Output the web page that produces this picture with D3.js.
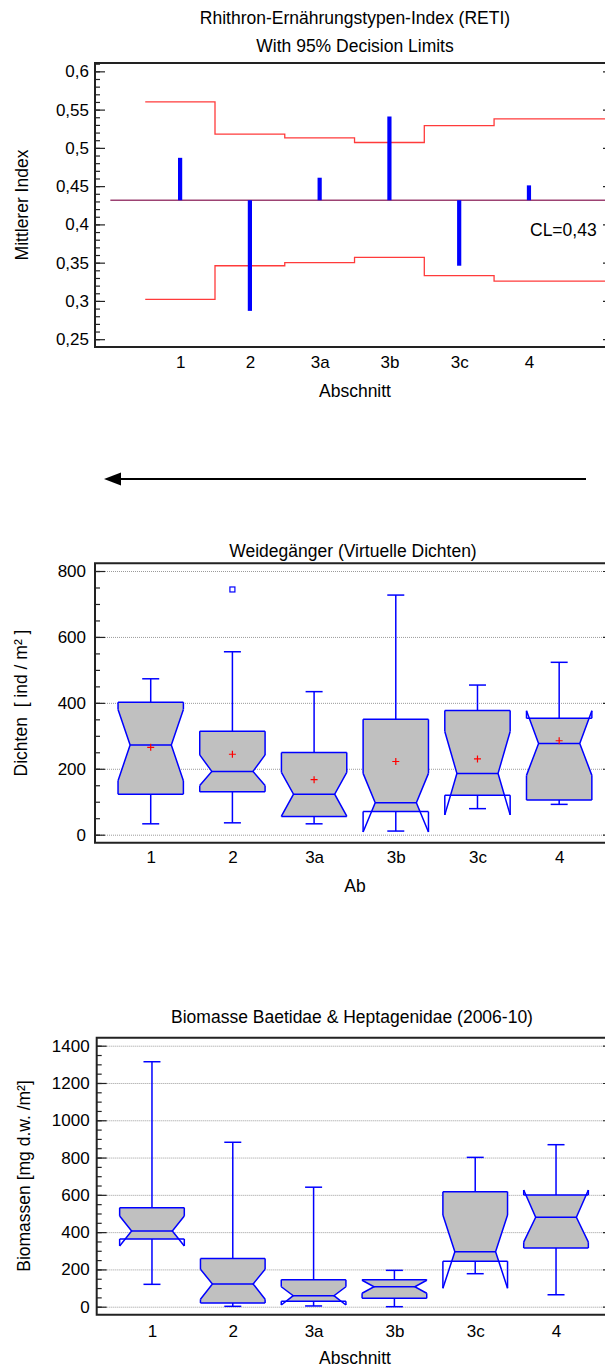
<!DOCTYPE html>
<html>
<head>
<meta charset="utf-8">
<script src="https://cdn.jsdelivr.net/npm/d3@7"></script>
<style>
  html, body { margin: 0; padding: 0; background: #fff; }
  svg { display: block; font-family: "Liberation Sans", Arial, sans-serif; }
  text { white-space: pre; }
</style>
</head>
<body>
<svg id="chart" width="605" height="1367"></svg>
<script>
// ---------- Data ----------
const sections = ["1", "2", "3a", "3b", "3c", "4"];

// RETI: section means with 95% decision limits around the centre line
const retiMeans = [0.487, 0.287, 0.461, 0.541, 0.346, 0.451];
const retiUpper = [0.560, 0.518, 0.513, 0.507, 0.529, 0.538];
const retiLower = [0.302, 0.346, 0.350, 0.357, 0.333, 0.326];
const retiCL = 0.4316;
const retiTicks = [0.25, 0.3, 0.35, 0.4, 0.45, 0.5, 0.55, 0.6];

// Weidegänger densities (ind / m²)
const grazerQ1 = [123, 130, 55, 70, 120, 105];
const grazerQ3 = [402, 314, 249, 350, 377, 353];
const grazerMedian = [272, 192, 123, 97, 186, 277];
const grazerNotchLow = [164, 149, 56, 8, 60, 180];
const grazerNotchHigh = [380, 242, 189, 186, 313, 376];
const grazerWhiskerLow = [33, 36, 33, 11, 79, 92];
const grazerWhiskerHigh = [473, 555, 434, 727, 454, 523];
const grazerMean = [265, 244, 167, 222, 230, 285];
const grazerOutliers = [[], [744], [], [], [], []];
const grazerTicks = [0, 200, 400, 600, 800];

// Biomass Baetidae & Heptagenidae (mg d.w. / m²)
const biomassQ1 = [363, 20, 29, 45, 244, 315];
const biomassQ3 = [531, 258, 145, 145, 617, 599];
const biomassMedian = [406, 122, 59, 107, 295, 480];
const biomassNotchLow = [326, 40, 9, 72, 99, 346];
const biomassNotchHigh = [487, 201, 107, 142, 492, 626];
const biomassWhiskerLow = [120, 2, 4, 0, 177, 64];
const biomassWhiskerHigh = [1314, 882, 641, 195, 801, 869];
const biomassTicks = [0, 200, 400, 600, 800, 1000, 1200, 1400];

// ---------- Helpers ----------
const svg = d3.select("#chart");
const ink = "#222";
const boxBlue = "#0000ff";
const FS = 17.5;
const TICK_FS = 17;
const commaLocale = d3.formatLocale({ decimal: ",", thousands: ".", grouping: [3], currency: ["", ""] });
const fmtIndex = commaLocale.format(".2~f");

function styleAxisText(g, size) {
  g.attr("font-family", null).attr("font-size", null);
  g.selectAll("text").attr("fill", "#000").style("font-size", size + "px");
}

function drawFrame(x, y) {
  const [x0, x1] = x.range();
  const [yb, yt] = y.range();
  svg.append("path")
    .attr("d", `M${x1 + 3},${yt}H${x0}V${yb}H${x1 + 3}`)
    .attr("fill", "none").attr("stroke", ink).attr("stroke-width", 2);
}

function drawYAxis(x, y, majors, minors, fmt, padding) {
  const x0 = x.range()[0];
  const x1 = x.range()[1];
  // minor ticks
  const gm = svg.append("g").attr("transform", `translate(${x0},0)`)
    .call(d3.axisLeft(y).tickValues(minors).tickSizeInner(-5).tickSizeOuter(0).tickFormat(""));
  gm.select(".domain").remove();
  gm.selectAll("line").attr("stroke", ink).attr("stroke-width", 1.2);
  // major ticks + labels
  const g = svg.append("g").attr("transform", `translate(${x0},0)`)
    .call(d3.axisLeft(y).tickValues(majors).tickSizeInner(-10).tickSizeOuter(0)
      .tickPadding(padding).tickFormat(fmt));
  g.select(".domain").remove();
  g.selectAll("line").attr("stroke", ink).attr("stroke-width", 1.2);
  styleAxisText(g, TICK_FS);
  // short ticks on the right-hand side
  const gr = svg.append("g").attr("transform", `translate(${x1 + 1},0)`)
    .call(d3.axisRight(y).tickValues(majors).tickSizeInner(-3).tickSizeOuter(0).tickFormat(""));
  gr.select(".domain").remove();
  gr.selectAll("line").attr("stroke", ink).attr("stroke-width", 1.2);
}

function drawGrid(x, y, majors) {
  const [x0, x1] = x.range();
  const g = svg.append("g").attr("transform", `translate(${x0},0)`)
    .call(d3.axisLeft(y).tickValues(majors).tickSizeInner(-(x1 - x0)).tickSizeOuter(0).tickFormat(""));
  g.select(".domain").remove();
  g.selectAll("line").attr("stroke", "#9a9a9a").attr("stroke-width", 1).attr("stroke-dasharray", "1,1");
}

function drawXAxis(x, y, padding) {
  const g = svg.append("g").attr("transform", `translate(0,${y.range()[0]})`)
    .call(d3.axisBottom(x).tickValues(d3.range(sections.length)).tickSize(0)
      .tickPadding(padding).tickFormat(i => sections[i]));
  g.select(".domain").remove();
  styleAxisText(g, TICK_FS);
}

function addText(str, x, y, opts = {}) {
  const t = svg.append("text").attr("x", x).attr("y", y)
    .attr("text-anchor", opts.anchor || "middle")
    .attr("xml:space", "preserve")
    .style("font-size", (opts.size || FS) + "px").attr("fill", "#000").text(str);
  if (opts.rotate) t.attr("transform", `rotate(-90,${x},${y})`);
  return t;
}

function drawBoxes(x, y, s) {
  const step = x(1) - x(0);
  const hw = step * 0.4;
  const inset = hw * 0.37;
  const capHalf = 8.5;
  const g = svg.append("g");
  s.q1.forEach((_, i) => {
    const cx = x(i);
    const q1 = s.q1[i], q3 = s.q3[i], med = s.median[i], nl = s.notchLow[i], nh = s.notchHigh[i];
    const hwAt = v => {
      if (v >= nh || v <= nl) return hw;
      if (v >= med) return hw - inset * (nh - v) / (nh - med);
      return hw - inset * (v - nl) / (med - nl);
    };
    // filled notched body between the quartiles
    const vals = Array.from(new Set([q3, nh, med, nl, q1].filter(v => v <= q3 && v >= q1)))
      .sort((a, b) => b - a);
    const pts = vals.map(v => [cx - hwAt(v), y(v)])
      .concat(vals.slice().reverse().map(v => [cx + hwAt(v), y(v)]));
    g.append("path").attr("d", d3.line()(pts) + "Z").attr("fill", "#c0c0c0").attr("stroke", "none");

    const line = d3.line();
    const stroke = p => g.append("path").attr("d", line(p)).attr("fill", "none")
      .attr("stroke", boxBlue).attr("stroke-width", 1.5);
    // whiskers and caps
    stroke([[cx, y(q3)], [cx, y(s.whiskerHigh[i])]]);
    stroke([[cx - capHalf, y(s.whiskerHigh[i])], [cx + capHalf, y(s.whiskerHigh[i])]]);
    stroke([[cx, y(q1)], [cx, y(s.whiskerLow[i])]]);
    stroke([[cx - capHalf, y(s.whiskerLow[i])], [cx + capHalf, y(s.whiskerLow[i])]]);
    // quartile lines
    stroke([[cx - hw, y(q3)], [cx + hw, y(q3)]]);
    stroke([[cx - hw, y(q1)], [cx + hw, y(q1)]]);
    [-1, 1].forEach(sd => {
      stroke([[cx + sd * hw, y(q3)], [cx + sd * hw, y(nh)]]);
      stroke([[cx + sd * hw, y(q1)], [cx + sd * hw, y(nl)]]);
      stroke([[cx + sd * hw, y(nh)], [cx + sd * (hw - inset), y(med)], [cx + sd * hw, y(nl)]]);
    });
    // median
    stroke([[cx - (hw - inset), y(med)], [cx + (hw - inset), y(med)]]);
    // mean marker
    if (s.mean) {
      const my = y(s.mean[i]);
      g.append("path").attr("d", `M${cx - 3.5},${my}H${cx + 3.5}M${cx},${my - 3.5}V${my + 3.5}`)
        .attr("stroke", "#ff0000").attr("stroke-width", 1.2);
    }
    // outliers
    if (s.outliers) {
      s.outliers[i].forEach(v => {
        g.append("rect").attr("x", cx - 2.5).attr("y", y(v) - 2.5).attr("width", 5).attr("height", 5)
          .attr("fill", "#fff").attr("stroke", boxBlue).attr("stroke-width", 1.2);
      });
    }
  });
}

// ---------- Panel 1: RETI means with decision limits ----------
{
  const x = d3.scaleLinear().domain([-1.22, 6.09]).range([95, 605]);
  const y = d3.scaleLinear().domain([0.2398, 0.6109]).range([347, 63]);

  addText("Rhithron-Ernährungstypen-Index (RETI)", 355, 24);
  addText("With 95% Decision Limits", 355, 51.5);

  const minors = d3.range(24, 62).map(v => v / 100);
  drawYAxis(x, y, retiTicks, minors, fmtIndex, 6);

  const step = d3.line().curve(d3.curveStepAfter).x(d => x(d[0])).y(d => y(d[1]));
  const upperPts = retiUpper.map((v, i) => [i - 0.5, v]).concat([[x.domain()[1], retiUpper[retiUpper.length - 1]]]);
  const lowerPts = retiLower.map((v, i) => [i - 0.5, v]).concat([[x.domain()[1], retiLower[retiLower.length - 1]]]);
  svg.append("path").attr("d", step(upperPts)).attr("fill", "none").attr("stroke", "#ff3b3b").attr("stroke-width", 1.3);
  svg.append("path").attr("d", step(lowerPts)).attr("fill", "none").attr("stroke", "#ff3b3b").attr("stroke-width", 1.3);

  svg.append("line").attr("x1", x(-1)).attr("x2", x.range()[1]).attr("y1", y(retiCL)).attr("y2", y(retiCL))
    .attr("stroke", "#9c4272").attr("stroke-width", 1.5);

  svg.append("g").selectAll("line").data(retiMeans).join("line")
    .attr("x1", (d, i) => x(i)).attr("x2", (d, i) => x(i))
    .attr("y1", y(retiCL)).attr("y2", d => y(d))
    .attr("stroke", "#0000ff").attr("stroke-width", 4.2);

  addText("CL=" + commaLocale.format(".2f")(retiCL), 530, 235.5, { anchor: "start" });

  drawFrame(x, y);
  drawXAxis(x, y, 9);
  addText("Abschnitt", 355, 396.5);
  addText("Mittlerer Index", 28, 205, { rotate: true });
}

// ---------- Direction arrow ----------
svg.append("line").attr("x1", 118).attr("x2", 586).attr("y1", 479).attr("y2", 479)
  .attr("stroke", "#000").attr("stroke-width", 2);
svg.append("path").attr("d", "M104,479L121,472.5L121,485.5Z").attr("fill", "#000");

// ---------- Panel 2: Weidegänger ----------
{
  const x = d3.scaleLinear().domain([-0.682, 5.561]).range([95, 605]);
  const y = d3.scaleLinear().domain([-24.3, 823.4]).range([842.7, 563.3]);

  addText("Weidegänger (Virtuelle Dichten)", 353, 556.5);
  drawGrid(x, y, grazerTicks);
  drawYAxis(x, y, grazerTicks, d3.range(0, 801, 50), d3.format("d"), 9);
  drawBoxes(x, y, {
    q1: grazerQ1, q3: grazerQ3, median: grazerMedian,
    notchLow: grazerNotchLow, notchHigh: grazerNotchHigh,
    whiskerLow: grazerWhiskerLow, whiskerHigh: grazerWhiskerHigh,
    mean: grazerMean, outliers: grazerOutliers
  });
  drawFrame(x, y);
  drawXAxis(x, y, 8);
  addText("Ab", 355, 891.5);
  addText("Dichten  [ ind / m² ]", 27, 703, { rotate: true });
}

// ---------- Panel 3: Biomasse ----------
{
  const x = d3.scaleLinear().domain([-0.684, 5.606]).range([96.7, 605]);
  const y = d3.scaleLinear().domain([-42.9, 1442.9]).range([1314.7, 1037.7]);

  addText("Biomasse Baetidae & Heptagenidae (2006-10)", 352, 1022.5);
  drawGrid(x, y, biomassTicks);
  drawYAxis(x, y, biomassTicks, d3.range(0, 1401, 50), d3.format("d"), 7);
  drawBoxes(x, y, {
    q1: biomassQ1, q3: biomassQ3, median: biomassMedian,
    notchLow: biomassNotchLow, notchHigh: biomassNotchHigh,
    whiskerLow: biomassWhiskerLow, whiskerHigh: biomassWhiskerHigh
  });
  drawFrame(x, y);
  drawXAxis(x, y, 10);
  addText("Abschnitt", 355, 1364);
  addText("Biomassen [mg d.w. /m²]", 30, 1176, { rotate: true });
}
</script>
</body>
</html>
